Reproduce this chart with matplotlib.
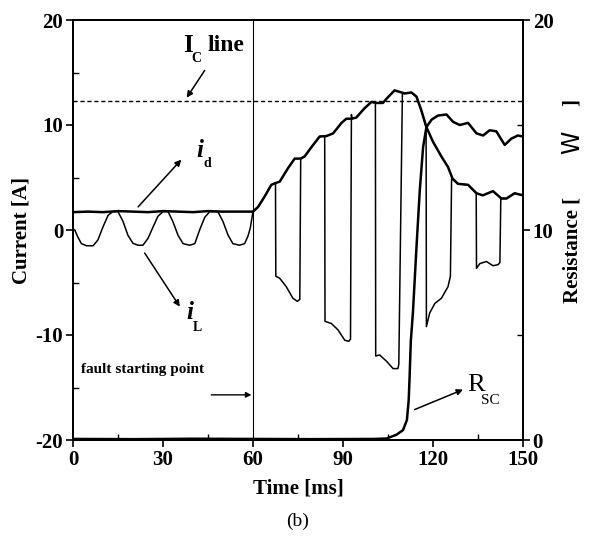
import matplotlib
matplotlib.use("Agg")
import matplotlib.pyplot as plt
from matplotlib.ticker import MultipleLocator

plt.rcParams['font.family'] = ['Liberation Serif', 'DejaVu Serif']
plt.rcParams['axes.unicode_minus'] = False

# ---- data ----
t_id = [0, 5, 10, 15, 20, 25, 30, 35, 40, 45, 50, 55, 60,
        61.7, 63.9, 66.1, 67.8, 68.9, 71.7, 73.9, 75.9, 77.2, 79.5, 82.2, 84.5,
        86.7, 89.5, 91.1, 92.8, 94.4, 97.2, 99.5, 101.1, 103.3, 104.5, 107.2,
        109.5, 110.5, 112.8, 114.5, 116.1, 117.8, 120, 122.8, 125, 126.5, 128.3,
        131.7, 134.5, 136.6, 140, 142.8, 144.5, 147.2, 150]
i_d = [1.7, 1.75, 1.7, 1.8, 1.75, 1.7, 1.8, 1.75, 1.7, 1.8, 1.75, 1.75, 1.75,
       2.2, 3.2, 4.3, 4.5, 4.6, 5.9, 6.8, 6.8, 7.0, 7.9, 8.9, 8.95,
       9.2, 10.2, 10.6, 10.6, 10.7, 11.6, 12.2, 12.1, 12.1, 12.5, 13.3,
       13.1, 13.0, 13.1, 12.7, 11.4, 9.8, 8.4, 7.0, 6.0, 4.9, 4.4,
       4.3, 3.5, 3.3, 3.7, 3.0, 3.0, 3.5, 3.3]

t_iL = [0, 0.6, 1.5, 2.8, 4.5, 6.7, 8.3, 10, 11.7, 13.3, 15, 16.7, 18.3, 20,
        21.7, 23.3, 25, 26.7, 28.3, 30, 31.7, 33.3, 35, 36.7, 38.9, 40.6, 42.2,
        43.9, 45.6, 48.3, 50, 51.7, 53.3, 55.5, 57.2, 58.3, 59.1, 60,
        61.7, 63.9, 66.1, 67.5, 67.6, 68.9, 71.1, 73.3, 74.8, 75.6, 75.9, 77.2,
        79.5, 82.2, 83.9, 84.0, 86.1, 88.3, 90.6, 91.9, 92.5, 92.8, 93.0, 94.4,
        97.2, 99.5, 100.8, 100.9, 102.2, 104.5, 106.7, 108.3, 108.6, 109.8,
        110.5, 112.8, 114.5, 116.1, 117.7, 117.8, 118.9, 120.6, 122.8, 125,
        125.8, 126.2, 128.3, 131.7, 134.4, 134.5, 135.6, 137.8, 140, 141.7,
        142.3, 142.6, 144.5, 147.2, 150]
i_L = [0.1, 0.0, -0.6, -1.3, -1.5, -1.5, -0.95, 0.3, 1.4, 1.75, 1.75, 0.8, -0.5, -1.27,
       -1.45, -1.45, -0.8, 0.3, 1.3, 1.75, 1.75, 0.8, -0.5, -1.3, -1.45, -1.3, 0.0,
       1.2, 1.75, 1.75, 0.8, -0.5, -1.3, -1.45, -1.3, -0.6, 0.2, 1.75,
       2.2, 3.2, 4.3, 4.5, -4.4, -4.6, -5.4, -6.5, -6.8, -6.6, 6.8, 7.0,
       7.9, 8.9, 8.95, -8.7, -8.9, -9.5, -10.5, -10.6, -10.4, 11.0, 10.6, 10.7,
       11.6, 12.2, 12.1, -12.0, -11.9, -12.5, -13.2, -13.2, -12.8, 13.1,
       13.0, 13.1, 12.7, 11.4, 9.8, -9.2, -7.9, -7.0, -6.5, -5.4,
       -4.4, 4.9, 4.4, 4.3, 3.5, -3.65, -3.2, -3.0, -3.4, -3.3,
       -3.1, 3.0, 3.0, 3.5, 3.3]

t_rsc = [0, 20, 40, 60, 80, 100, 104.5, 107.8, 110, 111.3, 111.9, 112.2, 112.6,
         113.3, 114.5, 115.6, 116.7, 117.8, 119.5, 120, 121.7, 124.5, 126.7,
         128.9, 131.7, 134.5, 136.7, 138.9, 141.1, 143.9, 146.1, 148.3, 150]
r_sc = [0.05, 0.04, 0.06, 0.05, 0.04, 0.05, 0.07, 0.25, 0.47, 0.95, 1.9, 3.0, 4.7,
        6.05, 9.2, 11.9, 13.95, 14.9, 15.25, 15.3, 15.45, 15.5, 15.15,
        15.0, 15.1, 14.6, 14.5, 14.75, 14.7, 14.05, 14.35, 14.5, 14.45]

ic_level = 12.3
fault_time = 60

x_ticks = [0, 30, 60, 90, 120, 150]
y_ticks = [-20, -10, 0, 10, 20]
r_ticks = [0, 10, 20]

# ---- figure ----
W, H = 592, 543
fig = plt.figure(figsize=(W / 100, H / 100), dpi=100)
ax = fig.add_axes([73 / W, 1 - 440 / H, 450 / W, 420 / H])

ax.plot(t_iL, i_L, color='black', lw=1.1)
ax.plot(t_id, i_d, color='black', lw=1.8)
ax.axhline(ic_level, color='black', lw=1.0, ls=(0, (3, 2)))
ax.axvline(fault_time, color='black', lw=0.8)

ax.set_xlim(0, 150)
ax.set_ylim(-20, 20)
ax.set_xticks(x_ticks)
ax.set_yticks(y_ticks)
ax.xaxis.set_minor_locator(MultipleLocator(15))
ax.yaxis.set_minor_locator(MultipleLocator(5))
ax.tick_params(which='major', direction='out', length=5, width=1.2,
               labelsize=15, pad=2)
ax.tick_params(which='minor', direction='in', length=4, width=1.0)
for lab in ax.get_xticklabels() + ax.get_yticklabels():
    lab.set_fontweight('bold')
for s in ax.spines.values():
    s.set_linewidth(1.4)

ax2 = ax.twinx()
ax2.plot(t_rsc, r_sc, color='black', lw=1.8)
ax2.set_ylim(0, 20)
ax2.set_yticks(r_ticks)
ax2.yaxis.set_minor_locator(MultipleLocator(5))
ax2.tick_params(which='major', direction='out', length=5, width=1.2,
                labelsize=15, pad=2)
ax2.tick_params(which='minor', direction='in', length=4, width=1.0)
for lab in ax2.get_yticklabels():
    lab.set_fontweight('bold')
for s in ax2.spines.values():
    s.set_linewidth(1.4)

# ---- annotations ----
bold = dict(fontweight='bold', color='black')
ax.text(38.2, 17.6, 'I', fontsize=18, ha='center', va='center', **bold)
ax.text(41.2, 16.3, 'C', fontsize=10, ha='center', va='center', **bold)
ax.text(44.8, 17.6, 'line', fontsize=17, ha='left', va='center', **bold)
ax.annotate('', xy=(37.9, 12.6), xytext=(43.9, 15.2),
            arrowprops=dict(arrowstyle='-|>', color='black', lw=1.1,
                            mutation_scale=9, shrinkA=0, shrinkB=0))

ax.text(42.2, 7.6, 'i', fontsize=18, style='italic', ha='center', va='center', **bold)
ax.text(44.8, 6.3, 'd', fontsize=10, ha='center', va='center', **bold)
ax.annotate('', xy=(36.1, 6.7), xytext=(21.7, 2.2),
            arrowprops=dict(arrowstyle='-|>', color='black', lw=1.1,
                            mutation_scale=9, shrinkA=0, shrinkB=0))

ax.text(38.9, -7.9, 'i', fontsize=18, style='italic', ha='center', va='center', **bold)
ax.text(41.4, -9.3, 'L', fontsize=10, ha='center', va='center', **bold)
ax.annotate('', xy=(35.6, -7.3), xytext=(23.9, -2.2),
            arrowprops=dict(arrowstyle='-|>', color='black', lw=1.1,
                            mutation_scale=9, shrinkA=0, shrinkB=0))

ax.text(2.8, -13.3, 'fault starting point', fontsize=11, ha='left',
        va='center', **bold)
ax.annotate('', xy=(59.5, -15.7), xytext=(46.1, -15.7),
            arrowprops=dict(arrowstyle='-|>', color='black', lw=1.0,
                            mutation_scale=8, shrinkA=0, shrinkB=0))

ax.text(134.2, -14.8, 'R', fontsize=19, ha='center', va='center', color='black')
ax.text(139.0, -16.2, 'SC', fontsize=11, ha='center', va='center', color='black')
ax.annotate('', xy=(130.0, -15.2), xytext=(113.9, -17.1),
            arrowprops=dict(arrowstyle='-|>', color='black', lw=1.1,
                            mutation_scale=9, shrinkA=0, shrinkB=0))

# ---- axis labels ----
fig.text(22 / W, 1 - 230 / H, 'Current [A]', rotation=90, fontsize=15,
         ha='center', va='center', **bold)
fig.text(572 / W, 1 - 250 / H, 'Resistance [', rotation=90, fontsize=15,
         ha='center', va='center', **bold)
fig.text(572 / W, 1 - 142 / H, 'W', rotation=90, fontsize=17,
         ha='center', va='center', family='DejaVu Sans', color='black')
fig.text(572 / W, 1 - 103 / H, ']', rotation=90, fontsize=15,
         ha='center', va='center', **bold)
fig.text(298 / W, 1 - 488 / H, 'Time [ms]', fontsize=15,
         ha='center', va='center', **bold)
fig.text(298 / W, 1 - 521 / H, '(b)', fontsize=14,
         ha='center', va='center', color='black')

fig.savefig('out.png', dpi=100)
